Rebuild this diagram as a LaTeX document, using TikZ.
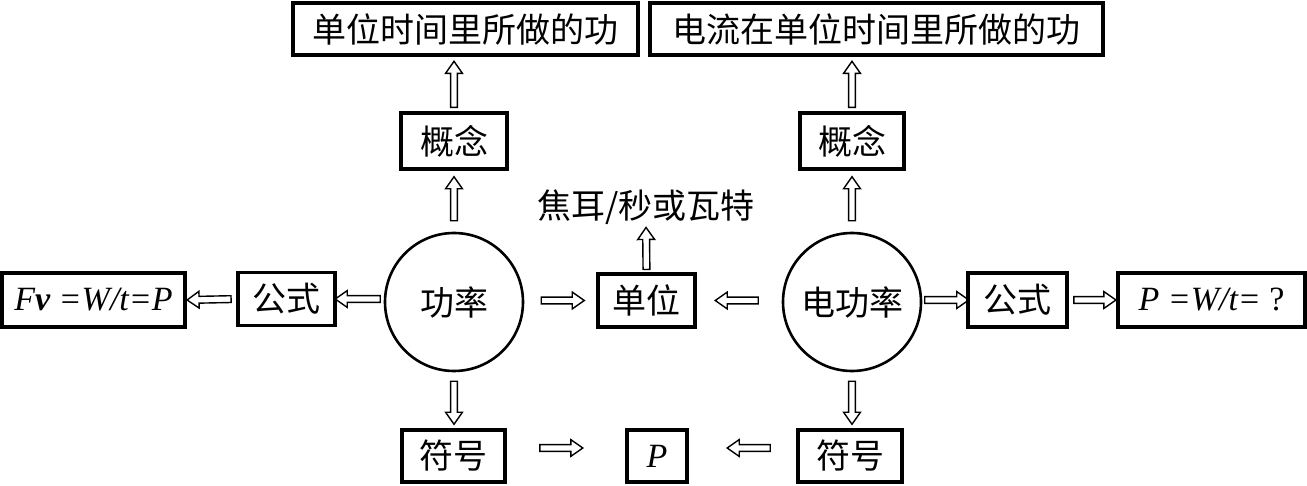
\documentclass[tikz,border=0pt]{standalone}
\usepackage{fontspec}
\setmainfont{Liberation Serif}
\newfontfamily\cjk{Noto Sans CJK SC}
\usetikzlibrary{shapes.arrows}
\begin{document}
\begin{tikzpicture}[x=1pt,y=-1pt,
  box/.style={draw, line width=3.2pt, inner sep=0pt, font=\cjk\fontsize{34}{40}\selectfont},
  fbox/.style={draw, line width=3.2pt, inner sep=0pt, font=\fontsize{34}{40}\selectfont\itshape},
  circ/.style={draw, circle, line width=2.6pt, inner sep=0pt, minimum size=138pt, font=\cjk\fontsize{34}{40}\selectfont},
  txt/.style={inner sep=0pt, font=\cjk\fontsize{34}{40}\selectfont},
  harrow/.style={single arrow, draw, line width=1.4pt, inner xsep=0pt, inner ysep=2.7pt,
    single arrow head extend=5pt, single arrow tip angle=70, sloped, allow upside down,
    anchor=center, minimum height=#1}]
\useasboundingbox (0,0) rectangle (1307,486);
% top boxes
\node[box, minimum width=345pt, minimum height=52pt] (t1) at (465.5,29) {单位时间里所做的功};
\node[box, minimum width=453pt, minimum height=52pt] (t2) at (876.5,29) {电流在单位时间里所做的功};
% concept boxes
\node[box, minimum width=106pt, minimum height=56pt] (k1) at (454,141) {概念};
\node[box, minimum width=104pt, minimum height=56pt] (k2) at (852,141) {概念};
% circles
\node[circ] (c1) at (454,302) {功率};
\node[circ] (c2) at (852,302) {电功率};
% unit
\node[box, minimum width=97pt, minimum height=53pt] (u) at (646.5,300.5) {单位};
\node[txt] (unit) at (646,207) {焦耳/秒或瓦特};
% formula boxes
\node[box, minimum width=97pt, minimum height=53pt] (g1) at (286.5,299) {公式};
\node[fbox, minimum width=183pt, minimum height=54pt] (f1) at (93.5,300) {F\textbf{v} =W/t=P};
\node[box, minimum width=99pt, minimum height=54pt] (g2) at (1017.5,300) {公式};
\node[fbox, minimum width=187pt, minimum height=54pt] (f2) at (1211.5,300) {P =W/t= \textup{?}};
% symbol boxes
\node[box, minimum width=103pt, minimum height=52pt] (s1) at (453.5,456) {符号};
\node[fbox, minimum width=60pt, minimum height=52pt] (p) at (657,456) {P};
\node[box, minimum width=104pt, minimum height=52pt] (s2) at (850,456) {符号};
% arrows
\path (c1.north) -- node[harrow=44pt]{} (k1.south);
\path (k1.north) -- node[harrow=46pt, pos=.45]{} (k1.north |- t1.south);
\path (c2.north) -- node[harrow=44pt]{} (k2.south);
\path (k2.north) -- node[harrow=46pt, pos=.45]{} (k2.north |- t2.south);
\path (c1.south) -- node[harrow=43pt]{} (c1.south |- s1.north);
\path (c2.south) -- node[harrow=43pt]{} (c2.south |- s2.north);
\path (g1.east -| c1.west) -- node[harrow=45pt]{} (g1.east);
\path (g1.west) -- node[harrow=44pt]{} (f1.east);
\path (u.west -| c1.east) -- node[harrow=43pt]{} (u.west);
\path (u.east -| c2.west) -- node[harrow=43pt]{} (u.east);
\path (g2.west -| c2.east) -- node[harrow=44pt]{} (g2.west);
\path (g2.east) -- node[harrow=42pt]{} (f2.west);
\path (u.north) -- node[harrow=42pt, pos=.45]{} (unit.south);
\path ([yshift=8pt]s1.east) -- node[harrow=43pt, pos=.44]{} ([yshift=8pt]p.west);
\path ([yshift=8pt]s2.west) -- node[harrow=43pt, pos=.42]{} ([yshift=8pt]p.east);
\end{tikzpicture}
\end{document}
